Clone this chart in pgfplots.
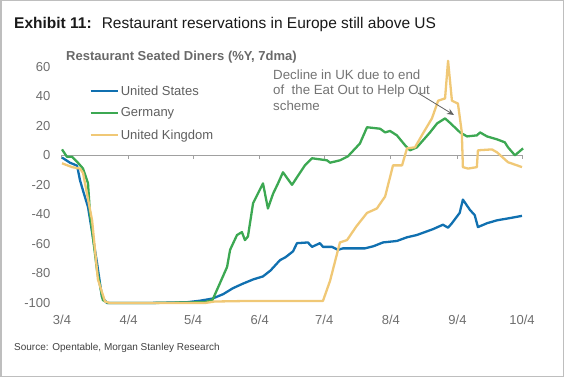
\documentclass[border=0pt]{standalone}
\usepackage{fontspec}
\setmainfont{Liberation Sans}
\usepackage{pgfplots}
\pgfplotsset{compat=1.18}
\usetikzlibrary{arrows.meta}
\definecolor{usblue}{RGB}{16,112,176}
\definecolor{degreen}{RGB}{60,168,82}
\definecolor{ukyellow}{RGB}{240,200,118}
\definecolor{framegray}{RGB}{190,190,190}
\definecolor{tickgray}{RGB}{110,110,110}
\definecolor{legendgray}{RGB}{95,95,95}
\definecolor{titlegray}{RGB}{105,105,105}
\definecolor{annotgray}{RGB}{115,115,115}
\definecolor{axisgray}{RGB}{160,160,160}
\begin{document}
\begin{tikzpicture}
\path[use as bounding box] (0bp,0bp) rectangle (564bp,377bp);
\draw[framegray, line width=1.5bp] (0.75bp,0.75bp) rectangle (563.25bp,376.25bp);
\node[anchor=base west, inner sep=0pt, font=\fontsize{15.5bp}{18bp}\selectfont, text=black!90] at (14bp,348.3bp) {\textbf{Exhibit 11:}~ Restaurant reservations in Europe still above US};
\node[anchor=base west, inner sep=0pt, font=\fontsize{13bp}{15bp}\selectfont\bfseries, text=titlegray] at (66bp,316.3bp) {Restaurant Seated Diners (\%Y, 7dma)};
\node[anchor=base west, inner sep=0pt, font=\fontsize{10bp}{12bp}\selectfont, text=black!75] at (14bp,26.3bp) {Source: Opentable, Morgan Stanley Research};
\begin{axis}[
  at={(62bp,74bp)}, anchor=south west, scale only axis,
  width=460bp, height=236.3bp,
  xmin=0, xmax=214, ymin=-100, ymax=60, clip=false,
  axis x line*=bottom, axis y line*=left, axis line style={draw=none},
  major tick length=0pt,
  xtick={0,31,61,92,122,153,184,214},
  xticklabels={3/4,4/4,5/4,6/4,7/4,8/4,9/4,10/4},
  ytick={-100,-80,-60,-40,-20,0,20,40,60},
  tick label style={font=\fontsize{13bp}{15bp}\selectfont, text=tickgray, inner sep=0pt},
  xticklabel style={anchor=base, yshift=-21.7bp},
  yticklabel style={anchor=east, xshift=-11.5bp},
  /pgf/number format/assume math mode=true,
  legend style={at={(0.0593,0.92)}, anchor=north west, draw=none, fill=none,
    inner sep=0pt, font=\fontsize{13bp}{15bp}\selectfont, text=legendgray,
    row sep=11.2bp, column sep=2bp, nodes={inner sep=0pt}},
  legend cell align=left,
  legend image code/.code={\draw[#1] (0bp,0bp) -- (27bp,0bp);},
  every axis plot/.append style={line width=2.3bp, line join=round},
]
\draw[axisgray, line width=1bp] (axis cs:0,0) -- (axis cs:214,0);
\pgfplotsinvokeforeach{0,31,61,92,122,153,184,214}{\draw[axisgray, line width=1bp] (axis cs:#1,0) -- ++(0bp,-4bp);}
\addplot[usblue] coordinates {(0,-1.5)(3.7,-5)(7,-7)(8.4,-17)(10,-25)(12.1,-35)(14,-52)(16.3,-73)(18.6,-96)(20.9,-100)(40,-100)(58,-99.5)(64,-98.5)(70,-97)(75,-94)(79.5,-90)(84,-87)(89,-84)(93.5,-82)(97,-78)(101.4,-71)(104,-69)(107.5,-65)(109.3,-59.5)(114.4,-59)(116.3,-62)(120,-59.5)(121.4,-62)(125.6,-62)(128.4,-64)(130.7,-63)(141,-63)(145,-61.5)(149.3,-59)(155.8,-58)(160.5,-55.5)(165,-54)(172.6,-50)(177.2,-47)(179.6,-49)(181.4,-46)(185,-39)(186.5,-30)(189.8,-37)(192,-40.5)(193.5,-48.6)(197.7,-46)(202.4,-44)(208.4,-42.5)(214,-41)};
\addlegendentry{United States}
\addplot[degreen] coordinates {(0,4)(2.3,-1)(4.7,-1)(7.4,-5)(9.8,-9)(12.1,-19)(13,-39)(16.3,-78)(19,-98)(21.4,-100)(40,-100)(66.5,-99.5)(70,-98)(73.5,-86.5)(76.8,-75.6)(78.2,-64)(81.4,-54)(83.7,-52)(85.1,-57.4)(86.5,-55)(88.9,-32.4)(93.5,-19)(95.8,-36)(98.2,-26)(100.5,-19)(102.8,-11.5)(107,-20)(113,-6.8)(116.3,-2)(123.3,-3.4)(124.7,-5)(129.3,-3.4)(133,-0.7)(138.6,8)(141.9,19)(148,18)(150.3,15.5)(152.6,16.5)(155.8,13.5)(159.6,6.8)(161.9,3.4)(165.1,5.4)(171.2,15.5)(174.5,21.6)(178.2,25)(180.5,22)(185.2,15.5)(188.4,12.8)(193,13.5)(194.5,15.5)(197.7,12.8)(202.4,10.8)(206,8.8)(207.5,5.4)(210.7,0)(214.5,4.7)};
\addlegendentry{Germany}
\addplot[ukyellow] coordinates {(0,-5.4)(4.7,-8)(8.4,-9)(9.8,-12)(10.7,-19)(14,-44)(16.7,-84)(20,-99)(22.3,-100)(66.5,-100)(71,-99)(87.5,-98.6)(121.4,-98.6)(124.7,-85)(129.3,-59)(132.6,-57.4)(137,-48)(141.9,-39)(146.5,-36)(149.3,-30)(150.3,-28)(154,-6.8)(158.2,-6.8)(160.5,4.7)(164.2,5.4)(168,15)(172.1,25)(175,37)(178.2,38.5)(179.6,64)(181.4,37)(184.2,35)(186,15.5)(186.5,-8)(188.9,-9)(193,-8)(193.5,3.4)(200,4)(202.4,2)(207.5,-4.7)(211.7,-6.8)(214,-8)};
\addlegendentry{United Kingdom}
\end{axis}
\begin{scope}[font=\fontsize{13.3bp}{15.7bp}\selectfont]
\node[anchor=base west, inner sep=0pt, text=annotgray] at (273bp,297.7bp) {Decline in UK due to end};
\node[anchor=base west, inner sep=0pt, text=annotgray] at (273bp,282bp) {of\ \ the Eat Out to Help Out};
\node[anchor=base west, inner sep=0pt, text=annotgray] at (273bp,266.3bp) {scheme};
\end{scope}
\draw[-{Stealth[length=7bp,width=6bp]}, annotgray!85!black, line width=0.8bp] (418bp,284bp) -- (454bp,262bp);
\end{tikzpicture}
\end{document}
